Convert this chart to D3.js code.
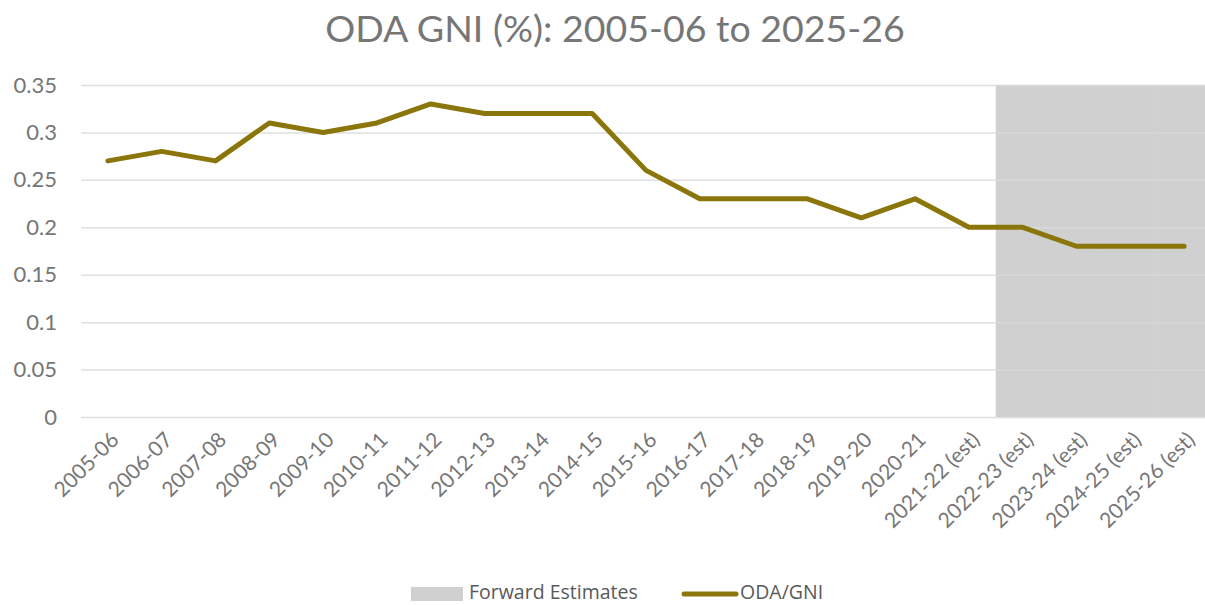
<!DOCTYPE html>
<html>
<head>
<meta charset="utf-8">
<script src="https://cdn.jsdelivr.net/npm/d3@7"></script>
<style>
  body { margin: 0; background: #fff; }
  svg { display: block; }
</style>
</head>
<body>
<svg id="chart" width="1205" height="605"></svg>
<script>
// data
const years = ['2005-06','2006-07','2007-08','2008-09','2009-10','2010-11','2011-12','2012-13','2013-14','2014-15',
  '2015-16','2016-17','2017-18','2018-19','2019-20','2020-21','2021-22 (est)','2022-23 (est)','2023-24 (est)','2024-25 (est)','2025-26 (est)'];
const odaGni = [0.27,0.28,0.27,0.31,0.30,0.31,0.33,0.32,0.32,0.32,0.26,0.23,0.23,0.23,0.21,0.23,0.20,0.20,0.18,0.18,0.18];
const forwardEstimates = [0,0,0,0,0,0,0,0,0,0,0,0,0,0,0,0,0,0.35,0.35,0.35,0.35];
const yTicks = [0,0.05,0.1,0.15,0.2,0.25,0.3,0.35];

const svg = d3.select('#chart');
const margin = {top: 85, left: 81};
const width = 1130;   // plot runs a little past the right edge
const height = 332;
const g = svg.append('g').attr('transform', `translate(${margin.left},${margin.top})`);

const x = d3.scaleBand().domain(years).range([0, width]).padding(0);
const y = d3.scaleLinear().domain([0, 0.35]).range([height, 0]);

const textGray = '#767676';
const font = 'Lato, "Open Sans", sans-serif';

// title
svg.append('text')
  .attr('x', 615).attr('y', 42)
  .attr('text-anchor', 'middle')
  .attr('fill', textGray)
  .attr('font-family', font)
  .attr('font-size', 37.5)
  .text('ODA GNI (%): 2005-06 to 2025-26');

// forward estimates bars (gap width 0)
g.selectAll('rect.fe')
  .data(years.map((d, i) => ({cat: d, v: forwardEstimates[i]})).filter(d => d.v > 0))
  .enter().append('rect')
  .attr('class', 'fe')
  .attr('x', d => x(d.cat))
  .attr('width', x.bandwidth() + 0.5)
  .attr('y', d => y(d.v))
  .attr('height', d => height - y(d.v))
  .attr('fill', '#d0d0d0');

// gridlines + y labels
const yAxis = g.append('g')
  .call(d3.axisLeft(y).tickValues(yTicks).tickSize(-width).tickFormat(d3.format('')));
yAxis.select('.domain').remove();
yAxis.selectAll('line').attr('stroke', '#d9d9d9').attr('stroke-width', 1.5).attr('stroke-opacity', 0.85);
yAxis.selectAll('text')
  .attr('x', -24)
  .attr('fill', textGray)
  .attr('font-family', font)
  .attr('font-size', 22);

// x axis labels
const xAxis = g.append('g')
  .attr('transform', `translate(0,${height})`)
  .call(d3.axisBottom(x).tickSize(0));
xAxis.select('.domain').remove();
xAxis.selectAll('text')
  .attr('fill', textGray)
  .attr('font-family', font)
  .attr('font-size', 21)
  .attr('text-anchor', 'end')
  .attr('dy', 0)
  .attr('transform', 'translate(10,22) rotate(-45)');

// ODA/GNI line
const line = d3.line()
  .x((d, i) => x(years[i]) + x.bandwidth() / 2)
  .y(d => y(d));
g.append('path')
  .datum(odaGni)
  .attr('fill', 'none')
  .attr('stroke', '#8a760b')
  .attr('stroke-width', 5)
  .attr('stroke-linejoin', 'round')
  .attr('stroke-linecap', 'round')
  .attr('d', line);

// legend
const legFont = '"Open Sans", "Liberation Sans", sans-serif';
const leg = svg.append('g');
leg.append('rect').attr('x', 411).attr('y', 587).attr('width', 52).attr('height', 14).attr('fill', '#d0d0d0');
leg.append('text').attr('x', 469).attr('y', 599).attr('fill', '#595959')
  .attr('font-family', legFont).attr('font-size', 19.5).text('Forward Estimates');
leg.append('line').attr('x1', 684).attr('x2', 736).attr('y1', 594).attr('y2', 594)
  .attr('stroke', '#8a760b').attr('stroke-width', 5).attr('stroke-linecap', 'round');
leg.append('text').attr('x', 740).attr('y', 599).attr('fill', '#595959')
  .attr('font-family', legFont).attr('font-size', 19.5).text('ODA/GNI');
</script>
</body>
</html>
